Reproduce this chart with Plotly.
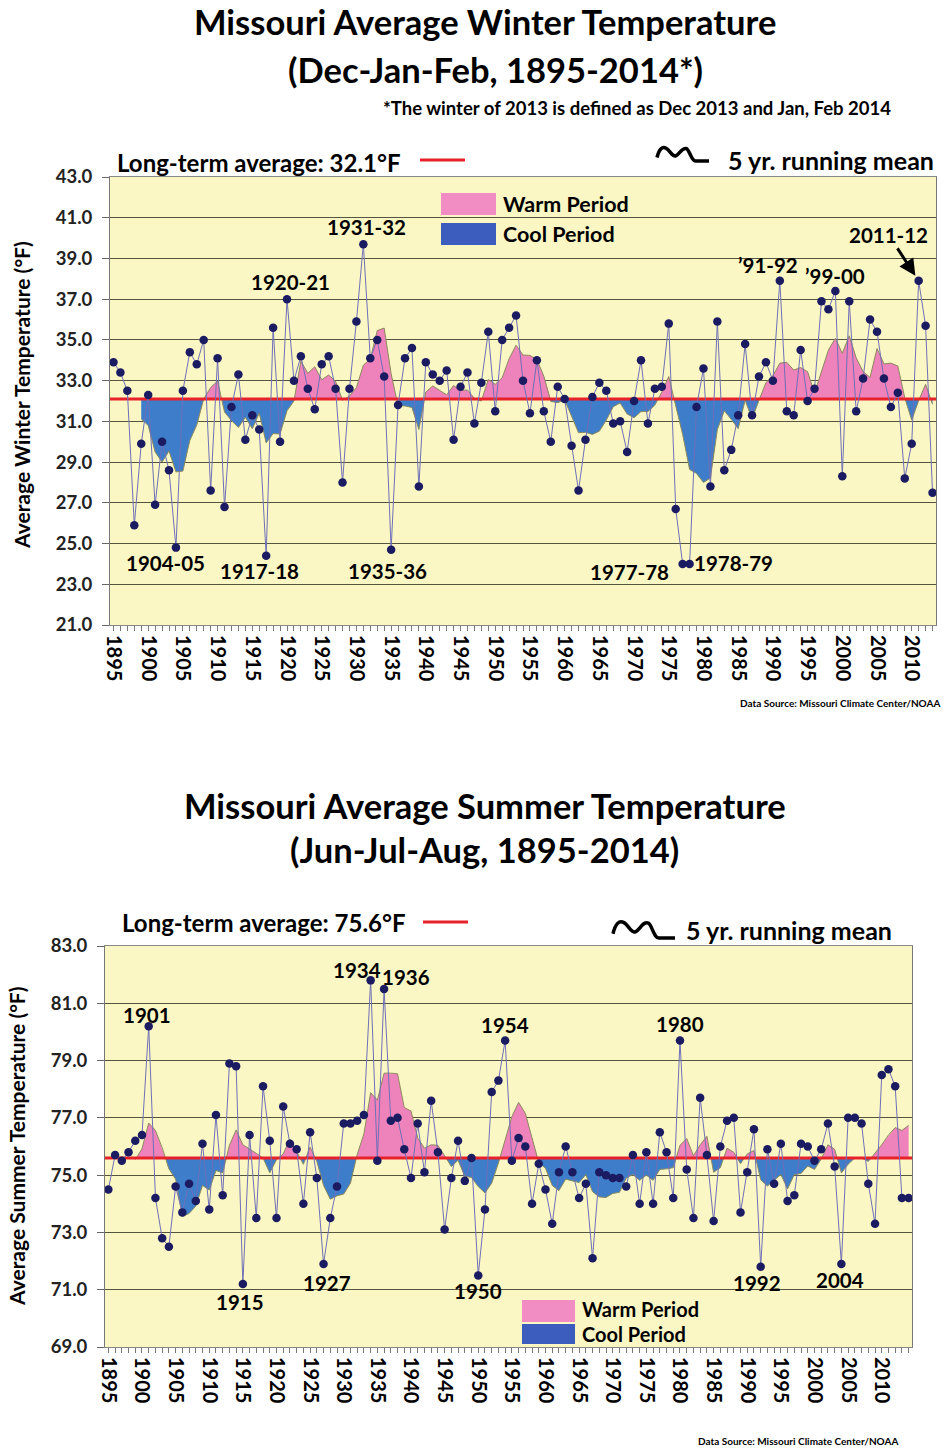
import plotly.graph_objects as go

# ---------------- DATA ----------------
winter_start = 1895
winter_temps = [
    33.9, 33.4, 32.5, 25.9, 29.9, 32.3, 26.9, 30.0, 28.6, 24.8,   # 1895-1904
    32.5, 34.4, 33.8, 35.0, 27.6, 34.1, 26.8, 31.7, 33.3, 30.1,   # 1905-1914
    31.3, 30.6, 24.4, 35.6, 30.0, 37.0, 33.0, 34.2, 32.6, 31.6,   # 1915-1924
    33.8, 34.2, 32.6, 28.0, 32.6, 35.9, 39.7, 34.1, 35.0, 33.2,   # 1925-1934
    24.7, 31.8, 34.1, 34.6, 27.8, 33.9, 33.3, 33.0, 33.5, 30.1,   # 1935-1944
    32.7, 33.4, 30.9, 32.9, 35.4, 31.5, 35.0, 35.6, 36.2, 33.0,   # 1945-1954
    31.4, 34.0, 31.5, 30.0, 32.7, 32.1, 29.8, 27.6, 30.1, 32.2,   # 1955-1964
    32.9, 32.5, 30.9, 31.0, 29.5, 32.0, 34.0, 30.9, 32.6, 32.7,   # 1965-1974
    35.8, 26.7, 24.0, 24.0, 31.7, 33.6, 27.8, 35.9, 28.6, 29.6,   # 1975-1984
    31.3, 34.8, 31.3, 33.2, 33.9, 33.0, 37.9, 31.5, 31.3, 34.5,   # 1985-1994
    32.0, 32.6, 36.9, 36.5, 37.4, 28.3, 36.9, 31.5, 33.1, 36.0,   # 1995-2004
    35.4, 33.1, 31.7, 32.4, 28.2, 29.9, 37.9, 35.7, 27.5,         # 2005-2013
]
winter_avg = 32.1

summer_start = 1895
summer_temps = [
    74.5, 75.7, 75.5, 75.8, 76.2, 76.4, 80.2, 74.2, 72.8, 72.5,   # 1895-1904
    74.6, 73.7, 74.7, 74.1, 76.1, 73.8, 77.1, 74.3, 78.9, 78.8,   # 1905-1914
    71.2, 76.4, 73.5, 78.1, 76.2, 73.5, 77.4, 76.1, 75.9, 74.0,   # 1915-1924
    76.5, 74.9, 71.9, 73.5, 74.6, 76.8, 76.8, 76.9, 77.1, 81.8,   # 1925-1934
    75.5, 81.5, 76.9, 77.0, 75.9, 74.9, 76.8, 75.1, 77.6, 75.8,   # 1935-1944
    73.1, 74.9, 76.2, 74.8, 75.6, 71.5, 73.8, 77.9, 78.3, 79.7,   # 1945-1954
    75.5, 76.3, 76.0, 74.0, 75.4, 74.5, 73.3, 75.1, 76.0, 75.1,   # 1955-1964
    74.2, 74.7, 72.1, 75.1, 75.0, 74.9, 74.9, 74.6, 75.7, 74.0,   # 1965-1974
    75.8, 74.0, 76.5, 75.8, 74.2, 79.7, 75.2, 73.5, 77.7, 75.7,   # 1975-1984
    73.4, 76.0, 76.9, 77.0, 73.7, 75.1, 76.6, 71.8, 75.9, 74.7,   # 1985-1994
    76.1, 74.1, 74.3, 76.1, 76.0, 75.5, 75.9, 76.8, 75.3, 71.9,   # 1995-2004
    77.0, 77.0, 76.8, 74.7, 73.3, 78.5, 78.7, 78.1, 74.2, 74.2,   # 2005-2014
]
summer_avg = 75.6

tick_years = list(range(1895, 2011, 5))
winter_yticks = list(range(21, 44, 2))
summer_yticks = list(range(69, 84, 2))

winter_labels = [
    ("1931-32", 366, 227), ("1920-21", 290, 282), ("\u201991-92", 768, 265),
    ("\u201999-00", 835, 276), ("1904-05", 165, 563), ("1917-18", 259, 571),
    ("1935-36", 387, 571), ("1977-78", 629, 572), ("1978-79", 733, 563),
]
summer_labels = [
    ("1901", 147, 1015), ("1934", 357, 970), ("1936", 406, 977),
    ("1954", 505, 1025), ("1980", 680, 1024), ("1915", 240, 1302),
    ("1927", 327, 1283), ("1950", 478, 1291), ("1992", 757, 1283),
    ("2004", 840, 1280),
]

# ---------------- HELPERS ----------------
W, H = 945, 1450
FONT = "Lato, 'Open Sans', sans-serif"
BG = "#FAF7C4"
PINK = "#EE82BA"
BLUE = "#3D7DCA"
LEG_PINK = "#F28DC3"
LEG_BLUE = "#3C5CBE"
DOT = "#1B1B62"
LINE = "#6F6FB8"
RED = "#E8222A"


def px(x):
    return x / W


def py(y):
    return 1 - y / H


def running_mean(vals, n=5):
    out = []
    for i in range(n - 1, len(vals)):
        out.append(sum(vals[i - n + 1:i + 1]) / n)
    return out


def split_fill(xs, m, base):
    X, U, L = [], [], []
    for i in range(len(xs)):
        if i > 0:
            a, b = m[i - 1] - base, m[i] - base
            if a * b < 0:
                t = a / (a - b)
                xc = xs[i - 1] + t * (xs[i] - xs[i - 1])
                X.append(xc); U.append(base); L.append(base)
        X.append(xs[i]); U.append(max(m[i], base)); L.append(min(m[i], base))
    return X, U, L


fig = go.Figure()
annotations = []
shapes = []


def add_chart(years, vals, base, xs_key, ys_key, xr):
    rm = running_mean(vals)
    rm_years = years[4:]
    X, U, L = split_fill(rm_years, rm, base)
    fig.add_trace(go.Scatter(x=X, y=[base] * len(X), mode="lines", line=dict(width=0),
                             hoverinfo="skip", showlegend=False, xaxis=xs_key, yaxis=ys_key))
    fig.add_trace(go.Scatter(x=X, y=U, mode="lines", line=dict(width=0), fill="tonexty",
                             fillcolor=PINK, hoverinfo="skip", showlegend=False,
                             xaxis=xs_key, yaxis=ys_key))
    fig.add_trace(go.Scatter(x=X, y=[base] * len(X), mode="lines", line=dict(width=0),
                             hoverinfo="skip", showlegend=False, xaxis=xs_key, yaxis=ys_key))
    fig.add_trace(go.Scatter(x=X, y=L, mode="lines", line=dict(width=0), fill="tonexty",
                             fillcolor=BLUE, hoverinfo="skip", showlegend=False,
                             xaxis=xs_key, yaxis=ys_key))
    fig.add_trace(go.Scatter(x=rm_years, y=rm, mode="lines",
                             line=dict(color="#8C8A5E", width=1),
                             showlegend=False, xaxis=xs_key, yaxis=ys_key))
    fig.add_trace(go.Scatter(x=list(xr), y=[base, base], mode="lines",
                             line=dict(color=RED, width=3), showlegend=False,
                             hoverinfo="skip", xaxis=xs_key, yaxis=ys_key))
    fig.add_trace(go.Scatter(x=years, y=vals, mode="lines+markers",
                             line=dict(color=LINE, width=1),
                             marker=dict(color=DOT, size=8.5),
                             showlegend=False, xaxis=xs_key, yaxis=ys_key))


w_years = list(range(winter_start, winter_start + len(winter_temps)))
s_years = list(range(summer_start, summer_start + len(summer_temps)))
w_range = (w_years[0] - 0.5, w_years[-1] + 0.5)
s_range = (s_years[0] - 0.5, s_years[-1] + 0.5)

add_chart(w_years, winter_temps, winter_avg, "x", "y", w_range)
add_chart(s_years, summer_temps, summer_avg, "x2", "y2", s_range)


def xaxis_cfg(domain, rng, anchor):
    return dict(domain=domain, range=list(rng), anchor=anchor, automargin=False,
                tickmode="array",
                tickvals=tick_years, ticktext=[str(t) for t in tick_years],
                tickangle=90, tickfont=dict(family=FONT, size=20, color="black", weight="bold"),
                ticks="outside", ticklen=5, tickcolor="#777", showgrid=False,
                showline=True, linecolor="#888", linewidth=1, mirror=True,
                minor=dict(dtick=1, tick0=1895, ticks="outside", ticklen=5, tickcolor="#777"),
                zeroline=False, fixedrange=True)


def yaxis_cfg(domain, rng, ticks, anchor):
    return dict(domain=domain, range=list(rng), anchor=anchor, automargin=False,
                tickmode="array", tickvals=ticks,
                ticktext=[f"{t:.1f}" for t in ticks],
                tickfont=dict(family=FONT, size=18.5, color="#222", weight="bold"),
                ticks="outside", ticklen=7, tickcolor="#666", ticklabelstandoff=6,
                showgrid=True, gridcolor="#55553F", gridwidth=1,
                showline=True, linecolor="#777", linewidth=1, mirror=True,
                zeroline=False, fixedrange=True)


def text(t, x, y, size, anchor="center", color="black", bold=True, angle=0):
    annotations.append(dict(text=f"<b>{t}</b>" if bold else t, x=px(x), y=py(y),
                            xref="paper", yref="paper", showarrow=False,
                            xanchor=anchor, yanchor="middle", textangle=angle,
                            font=dict(family=FONT, size=size, color=color)))


def squiggle(x0, y0, w, h):
    # wave icon inside box (x0, y0, w, h), pixel units
    def P(a, b):
        return f"{px(x0 + a * w)},{py(y0 + b * h)}"
    d = (f"M {P(0.0, 0.75)} "
         f"C {P(0.04, 0.15)} {P(0.10, -0.05)} {P(0.17, 0.08)} "
         f"C {P(0.25, 0.22)} {P(0.29, 0.72)} {P(0.36, 0.64)} "
         f"C {P(0.43, 0.55)} {P(0.48, 0.0)} {P(0.57, 0.12)} "
         f"C {P(0.63, 0.25)} {P(0.66, 1.0)} {P(0.74, 1.0)} "
         f"L {P(1.0, 1.0)}")
    shapes.append(dict(type="path", path=d, xref="paper", yref="paper",
                       line=dict(color="black", width=3.5)))


def rect(x0, y0, x1, y1, color):
    shapes.append(dict(type="rect", x0=px(x0), x1=px(x1), y0=py(y1), y1=py(y0),
                       xref="paper", yref="paper", fillcolor=color, line=dict(width=0)))


def hline(x0, x1, y, color, width):
    shapes.append(dict(type="line", x0=px(x0), x1=px(x1), y0=py(y), y1=py(y),
                       xref="paper", yref="paper", line=dict(color=color, width=width)))


# ---------------- WINTER TEXT ----------------
text("Missouri Average Winter Temperature", 485, 22, 34.5)
text("(Dec-Jan-Feb, 1895-2014*)", 495, 70, 34.5)
text("*The winter of 2013 is defined as Dec 2013 and Jan, Feb 2014", 893, 108, 18.5, anchor="right")
text("Long-term average: 32.1\u00b0F", 115, 163, 24, anchor="left")
hline(420, 465, 160, RED, 3)
squiggle(657, 147, 52, 14)
text("5 yr. running mean", 726, 160, 25, anchor="left")
rect(441, 193, 496, 215, LEG_PINK)
rect(441, 223, 496, 245, LEG_BLUE)
text("Warm Period", 501, 204, 21.5, anchor="left")
text("Cool Period", 501, 234, 21.5, anchor="left")
text("Average Winter Temperature (\u00b0F)", 21, 395, 21, angle=-90)
text("Data Source: Missouri Climate Center/NOAA", 942, 703, 10, anchor="right")
for t, x, y in winter_labels:
    text(t, x, y, 20.5)
annotations.append(dict(text="<b>2011-12</b>", x=2011, y=winter_temps[2011 - winter_start],
                        xref="x", yref="y", showarrow=True, arrowhead=2, arrowsize=1.1,
                        arrowwidth=3, arrowcolor="black", ax=-30, ay=-46, standoff=6,
                        font=dict(family=FONT, size=20.5, color="black")))

# ---------------- SUMMER TEXT ----------------
text("Missouri Average Summer Temperature", 485, 805, 34.5)
text("(Jun-Jul-Aug, 1895-2014)", 484, 850, 34.5)
text("Long-term average: 75.6\u00b0F", 120, 922, 24, anchor="left")
hline(423, 468, 922, RED, 3)
squiggle(613, 921, 62, 17)
text("5 yr. running mean", 684, 930, 25, anchor="left")
rect(522, 1300, 575, 1322, LEG_PINK)
rect(522, 1324, 575, 1344, LEG_BLUE)
text("Warm Period", 580, 1309, 20, anchor="left")
text("Cool Period", 580, 1334, 20, anchor="left")
text("Average Summer Temperature (\u00b0F)", 16, 1146, 21, angle=-90)
text("Data Source: Missouri Climate Center/NOAA", 900, 1441, 10, anchor="right")
for t, x, y in summer_labels:
    text(t, x, y, 20.5)

fig.update_layout(
    width=W, height=H, margin=dict(l=0, r=0, t=0, b=0, pad=0),
    paper_bgcolor="white", plot_bgcolor=BG,
    showlegend=False,
    xaxis=xaxis_cfg([px(110), px(936)], w_range, "y"),
    yaxis=yaxis_cfg([py(625), py(177)], (21, 43), winter_yticks, "x"),
    xaxis2=xaxis_cfg([px(105), px(912)], s_range, "y2"),
    yaxis2=yaxis_cfg([py(1347), py(946)], (69, 83), summer_yticks, "x2"),
    annotations=annotations, shapes=shapes,
)

fig.write_html("out.html", config={"displayModeBar": False},
               post_script="document.body.style.margin='0';document.body.style.overflow='hidden';")
